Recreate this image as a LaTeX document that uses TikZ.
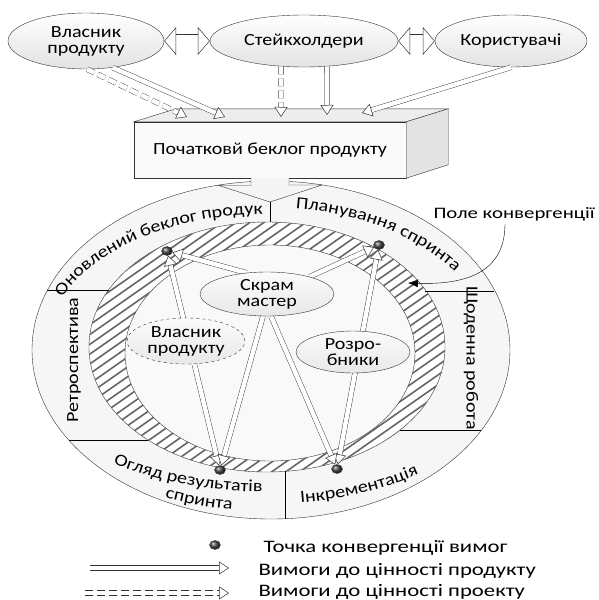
\documentclass[tikz,border=0pt]{standalone}
\usepackage{fontspec}
\setmainfont[FakeStretch=1.18]{Carlito}
\newfontfamily\legendfamily[FakeStretch=1.3]{Carlito}
\usetikzlibrary{shapes.geometric,arrows.meta,decorations.text}

\pgfdeclarelayer{back}
\pgfdeclarelayer{under}
\pgfsetlayers{back,under,main}

\newcommand\ringfont{\fontsize{17}{16}\selectfont}
\newcommand\legendfont{\legendfamily\fontsize{17.5}{20}\selectfont}

\begin{document}
\begin{tikzpicture}[
  x=1pt, y=-1pt, line width=0.5pt,
  actor/.style={ellipse,draw=black!80,top color=white,bottom color=gray!22,inner sep=-2pt,align=center,font=\ringfont},
  member/.style={ellipse,draw=black!80,top color=gray!3,bottom color=gray!18,inner sep=-3pt,align=center,font=\ringfont},
  conv/.style={ellipse,draw=black!80,ball color=gray!55!black,minimum width=11pt,minimum height=9pt,inner sep=0pt},
  hollow/.style={draw=black!80,double=white,double distance=4.5pt,-{Triangle[width=13pt,length=10pt,fill=white,line width=0.5pt]}},
  hollowb/.style={hollow,{Triangle[width=13pt,length=10pt,fill=white,line width=0.5pt]}-{Triangle[width=13pt,length=10pt,fill=white,line width=0.5pt]}},
  dashy/.style={dash pattern=on 8pt off 4pt},
  wide/.style={draw=black!80,double=white,double distance=13pt,{Triangle[width=28pt,length=12pt,fill=white,line width=0.5pt]}-{Triangle[width=28pt,length=12pt,fill=white,line width=0.5pt]}},
  hatch/.style={draw=black!60,line width=1.6pt},
  phase/.style={font=\ringfont},
  legend/.style={anchor=west,font=\legendfont}
]
  \useasboundingbox (0,0) rectangle (599,600);

  \begin{pgfonlayer}{back}
    \draw[draw=black!80,fill=gray!7] (271,350) ellipse [x radius=239,y radius=169];
    \draw[draw=black!80,fill=white] (267,347) ellipse [x radius=178,y radius=125];
    \begin{scope}
      \clip (267,347) ellipse [x radius=178,y radius=125];
      \foreach \s in {-300,-286,...,460}
        \draw[hatch] (\s,480) -- ++(370,-259);
    \end{scope}
    \draw[draw=black!80,fill=gray!5] (270,353) ellipse [x radius=145,y radius=108];
    \draw (47,290) -- (109,290);
    \draw (69,440) -- (148,440);
    \draw (425,291) -- (494,291);
    \draw (400,430) -- (481,430);
    \draw (285,471) -- (285,519);
    \path[decorate,decoration={text along path,text align=center,
      text={|\ringfont|Оновлений беклог продук}}]
      (267,350) ++(192:222 and 136) arc[start angle=192,end angle=276,x radius=222,y radius=136];
    \path[decorate,decoration={text along path,text align=center,
      text={|\ringfont|Планування спринта}}]
      (267,350) ++(268:224 and 143) arc[start angle=268,end angle=340,x radius=224,y radius=143];
    \path[decorate,decoration={text along path,text align=center,
      text={|\ringfont|Огляд результатів}}]
      (267,350) ++(138:255 and 142) arc[start angle=138,end angle=82,x radius=255,y radius=142];
    \path[decorate,decoration={text along path,text align=center,
      text={|\ringfont|спринта}}]
      (267,350) ++(122:255 and 161) arc[start angle=122,end angle=90,x radius=255,y radius=161];
    \path[decorate,decoration={text along path,text align=center,
      text={|\ringfont|Інкрементація}}]
      (267,350) ++(94:257 and 154) arc[start angle=94,end angle=40,x radius=257,y radius=154];
    \node[phase,rotate=90] (retro) at (74,360) {Ретроспектива};
    \node[phase,rotate=-90] (daily) at (471,358) {Щоденна робота};
  \end{pgfonlayer}

  \node[actor,minimum width=156pt,minimum height=56pt] (own) at (86,41) {Власник\\продукту};
  \node[actor,minimum width=188pt,minimum height=52pt] (stake) at (304,41) {Стейкхолдери};
  \node[actor,minimum width=152pt,minimum height=52pt] (users) at (511,41) {Користувачі};
  \draw[wide] (own) -- (stake);
  \draw[wide] (stake) -- (users);

  \node[draw=black!80,fill=gray!4,minimum width=272pt,minimum height=56pt,font=\ringfont] (box) at (270,150) {Початковй беклог продукту};
  \draw[draw=black!80,fill=gray!14] (box.north west) -- ++(42,-13) -- ([shift={(42,-13)}]box.north east) -- (box.north east) -- cycle;
  \draw[draw=black!80,fill=gray!22] (box.north east) -- ++(42,-13) -- ++(0,56) -- (box.south east) -- cycle;

  \coordinate (in1) at (187,117);
  \coordinate (in2) at (225,117);
  \coordinate (in3) at (281,117);
  \coordinate (in4) at (327,115);
  \coordinate (in5) at (362,113);
  \draw[hollow,dashy] (own.-88) -- (in1);
  \draw[hollow] (own.-45) -- (in2);
  \draw[hollow,dashy] (stake.-132) -- (in3);
  \draw[hollow] (stake.-48) -- (in4);
  \draw[hollow] (users.-89) -- (in5);

  \coordinate (split) at (270,202);
  \draw[draw=black!80,fill=gray!8] ([xshift=-19pt]box.south) -- ++(0,7) -- ++(-33,0) -- (split) -- ++(52,-17) -- ++(-33,0) -- ++(0,-7);
  \draw (split) -- (270,222);

  \node[member,minimum width=134pt,minimum height=44pt] (scrum) at (267,294) {Скрам\\мастер};
  \node[member,dashed,minimum width=118pt,minimum height=46pt] (owner) at (186,341) {Власник\\продукту};
  \node[member,minimum width=114pt,minimum height=42pt] (devs) at (353,352) {Розро-\\бники};

  \node[conv] (upd) at (167,251) {};
  \node[conv] (plan) at (379,245) {};
  \node[conv] (rev) at (220,470) {};
  \node[conv] (inc) at (337,469) {};

  \begin{pgfonlayer}{under}
    \draw[hollow] (scrum.134) -- (upd);
    \draw[hollow] (scrum.22) -- (plan);
    \draw[hollowb] (upd) -- (rev);
    \draw[hollowb] (plan) -- (inc);
    \draw[hollow] ([xshift=-4pt]scrum.south) -- (rev);
    \draw[hollow] ([xshift=4pt]scrum.south) -- (inc);
  \end{pgfonlayer}

  \node[legend,font=\legendfamily\fontsize{16}{18}\selectfont] (field) at (430,214) {Поле конвергенції};
  \coordinate (fieldtip) at (408,283);
  \draw[-{Latex[length=10pt,width=8pt]}] (505,224) .. controls (505,270) and (470,285) .. (fieldtip);

  \node[conv] (ldot) at (215,545) {};
  \node[legend] (lconv) at (260,548) {Точка конвергенції вимог};
  \coordinate (la) at (90,568);
  \coordinate (lb) at (229,568);
  \draw[hollow] (la) -- (lb);
  \node[legend] (lprod) at (255,571) {Вимоги до цінності продукту};
  \coordinate (lc) at (85,593);
  \coordinate (ld) at (229,593);
  \draw[hollow,dashy] (lc) -- (ld);
  \node[legend] (lproj) at (255,592) {Вимоги до цінності проекту};
\end{tikzpicture}
\end{document}
